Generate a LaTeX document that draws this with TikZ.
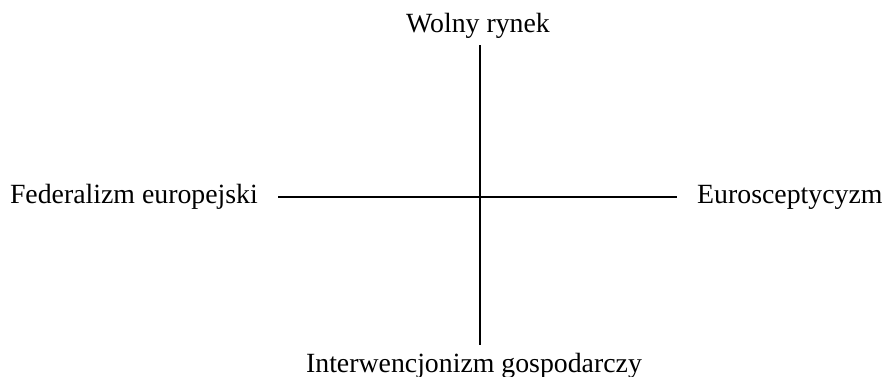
\documentclass[tikz,border=0pt]{standalone}
\usepackage{fontspec}
\setmainfont{Liberation Serif}
\usepackage{tikz}
\usetikzlibrary{positioning,calc}

\begin{document}
\begin{tikzpicture}[x=1pt, y=-1pt,
    axislabel/.style={font=\fontsize{27.8}{33}\selectfont, inner sep=0pt, text height=19pt, text depth=6pt},
    axis/.style={line width=1.6pt}
]
\useasboundingbox (0,0) rectangle (886,377);

\coordinate (origin) at (480,197);

\node[axislabel, anchor=east] (federal) at (258,197) {Federalizm europejski};
\node[axislabel, anchor=west] (euro) at (697,197) {Eurosceptycyzm};
\node[axislabel, anchor=base] (market) at (478,33) {Wolny rynek};
\node[axislabel, anchor=base] (interv) at (474,372) {Interwencjonizm gospodarczy};

\draw[axis, shorten <=20pt, shorten >=20pt] (federal) -- (euro);
\draw[axis, shorten <=6pt, shorten >=8pt] (origin |- market.south) -- (origin |- interv.north);

\end{tikzpicture}
\end{document}
